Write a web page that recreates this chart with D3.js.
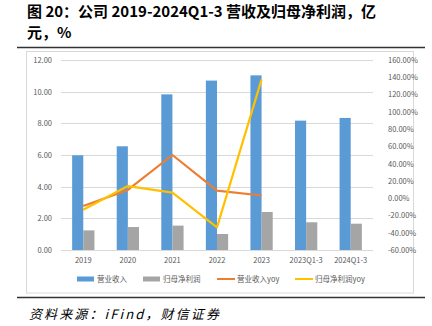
<!DOCTYPE html>
<html>
<head>
<meta charset="utf-8">
<script src="https://cdn.jsdelivr.net/npm/d3@7"></script>
<style>
  html, body { margin: 0; padding: 0; background: #fff; }
  svg { display: block; }
</style>
</head>
<body>
<svg id="chart" width="432" height="326"></svg>
<script>
// Revenue and attributable net profit, 100m CNY, with year-on-year growth
const categories = ["2019", "2020", "2021", "2022", "2023", "2023Q1-3", "2024Q1-3"];
const revenue = [5.98, 6.55, 9.83, 10.70, 11.03, 8.17, 8.34];
const netProfit = [1.24, 1.45, 1.54, 1.01, 2.40, 1.75, 1.66];
const revenueYoy = [-9.0, 9.5, 50.0, 8.8, 3.1];          // %, 2019–2023
const netProfitYoy = [-13.5, 14.0, 6.5, -33.8, 137.5];   // %, 2019–2023
const leftTicks = [0, 2, 4, 6, 8, 10, 12];
const rightTicks = [-60, -40, -20, 0, 20, 40, 60, 80, 100, 120, 140, 160];
const seriesNames = ["营业收入", "归母净利润", "营业收入yoy", "归母净利润yoy"];

const colors = { rev: "#5b9bd5", np: "#a5a5a5", revYoy: "#ed7d31", npYoy: "#ffc000" };

const svg = d3.select("#chart");
const sans = "'Noto Sans CJK SC', 'Noto Sans', sans-serif";

// Title
const title = svg.append("g").attr("font-family", sans).attr("font-weight", "bold")
  .attr("font-size", 15).attr("fill", "#000");
title.append("text").attr("x", 27).attr("y", 17).text("图 20：公司 2019-2024Q1-3 营收及归母净利润，亿");
title.append("text").attr("x", 27).attr("y", 38).text("元，%");

// Rules above and below the figure
svg.append("line").attr("x1", 17).attr("x2", 425).attr("y1", 47.5).attr("y2", 47.5)
  .attr("stroke", "#333").attr("stroke-width", 1.5);
svg.append("line").attr("x1", 17).attr("x2", 425).attr("y1", 297.5).attr("y2", 297.5)
  .attr("stroke", "#333").attr("stroke-width", 1.5);

// Chart frame
svg.append("rect").attr("x", 26.5).attr("y", 51.5).attr("width", 387).attr("height", 241.5)
  .attr("fill", "#fff").attr("stroke", "#d9d9d9").attr("stroke-width", 1);

// Plot area
const plot = { left: 61, right: 373, top: 60, bottom: 250 };

const x = d3.scaleBand().domain(categories).range([plot.left, plot.right]).paddingInner(0.5).paddingOuter(0.25);
const yL = d3.scaleLinear().domain([0, 12]).range([plot.bottom, plot.top]);
const yR = d3.scaleLinear().domain([-60, 160]).range([plot.bottom, plot.top]);

// Gridlines
svg.append("g").selectAll("line").data(leftTicks.filter(d => d > 0)).join("line")
  .attr("x1", plot.left).attr("x2", plot.right)
  .attr("y1", d => Math.round(yL(d)) + 0.5).attr("y2", d => Math.round(yL(d)) + 0.5)
  .attr("stroke", "#d9d9d9").attr("stroke-width", 1);

// Left axis
const axL = svg.append("g").attr("transform", `translate(${plot.left},0)`)
  .call(d3.axisLeft(yL).tickValues(leftTicks).tickFormat(d3.format(".2f")).tickSize(0).tickPadding(9));
axL.select(".domain").remove();
axL.selectAll("text").attr("font-family", sans).attr("font-size", 7.5).attr("fill", "#595959");

// Right axis
const axR = svg.append("g").attr("transform", `translate(${plot.right},0)`)
  .call(d3.axisRight(yR).tickValues(rightTicks).tickFormat(d => d.toFixed(2) + "%").tickSize(0).tickPadding(15));
axR.select(".domain").remove();
axR.selectAll("text").attr("font-family", sans).attr("font-size", 7.5).attr("fill", "#595959");

// Bars
const bw = x.bandwidth() / 2;
svg.append("g").selectAll("rect").data(revenue).join("rect")
  .attr("x", (d, i) => x(categories[i]))
  .attr("y", d => yL(d)).attr("width", bw).attr("height", d => yL(0) - yL(d))
  .attr("fill", colors.rev);
svg.append("g").selectAll("rect").data(netProfit).join("rect")
  .attr("x", (d, i) => x(categories[i]) + bw)
  .attr("y", d => yL(d)).attr("width", bw).attr("height", d => yL(0) - yL(d))
  .attr("fill", colors.np);

// Baseline
svg.append("line").attr("x1", plot.left).attr("x2", plot.right)
  .attr("y1", yL(0) + 0.5).attr("y2", yL(0) + 0.5).attr("stroke", "#d9d9d9");

// Category axis
const axB = svg.append("g").attr("transform", `translate(0,${plot.bottom})`)
  .call(d3.axisBottom(x).tickSize(0).tickPadding(8));
axB.select(".domain").remove();
axB.selectAll("text").attr("font-family", sans).attr("font-size", 7.5).attr("fill", "#595959");

// Growth lines
const cx = i => x(categories[i]) + x.bandwidth() / 2;
const line = d3.line().x((d, i) => cx(i)).y(d => yR(d));
svg.append("path").datum(revenueYoy).attr("d", line)
  .attr("fill", "none").attr("stroke", colors.revYoy).attr("stroke-width", 2.2).attr("stroke-linejoin", "round");
svg.append("path").datum(netProfitYoy).attr("d", line)
  .attr("fill", "none").attr("stroke", colors.npYoy).attr("stroke-width", 2.2).attr("stroke-linejoin", "round");

// Legend
const legend = svg.append("g").attr("font-family", sans).attr("font-size", 7.5).attr("fill", "#595959");
const legendItems = [
  { name: seriesNames[0], color: colors.rev, type: "rect", x: 77 },
  { name: seriesNames[1], color: colors.np, type: "rect", x: 143 },
  { name: seriesNames[2], color: colors.revYoy, type: "line", x: 217 },
  { name: seriesNames[3], color: colors.npYoy, type: "line", x: 295 }
];
const ly = 279;
legendItems.forEach(it => {
  if (it.type === "rect") {
    legend.append("rect").attr("x", it.x).attr("y", ly - 2.5).attr("width", 17).attr("height", 5).attr("fill", it.color);
  } else {
    legend.append("line").attr("x1", it.x).attr("x2", it.x + 18).attr("y1", ly).attr("y2", ly)
      .attr("stroke", it.color).attr("stroke-width", 2);
  }
  legend.append("text").attr("x", it.x + 20).attr("y", ly + 2.7).text(it.name);
});

// Source note
svg.append("text").attr("x", 29).attr("y", 319).attr("font-family", sans)
  .attr("font-style", "italic").attr("font-size", 13).attr("fill", "#000")
  .attr("textLength", 190).attr("lengthAdjust", "spacing")
  .text("资料来源：iFind，财信证券");
</script>
</body>
</html>
